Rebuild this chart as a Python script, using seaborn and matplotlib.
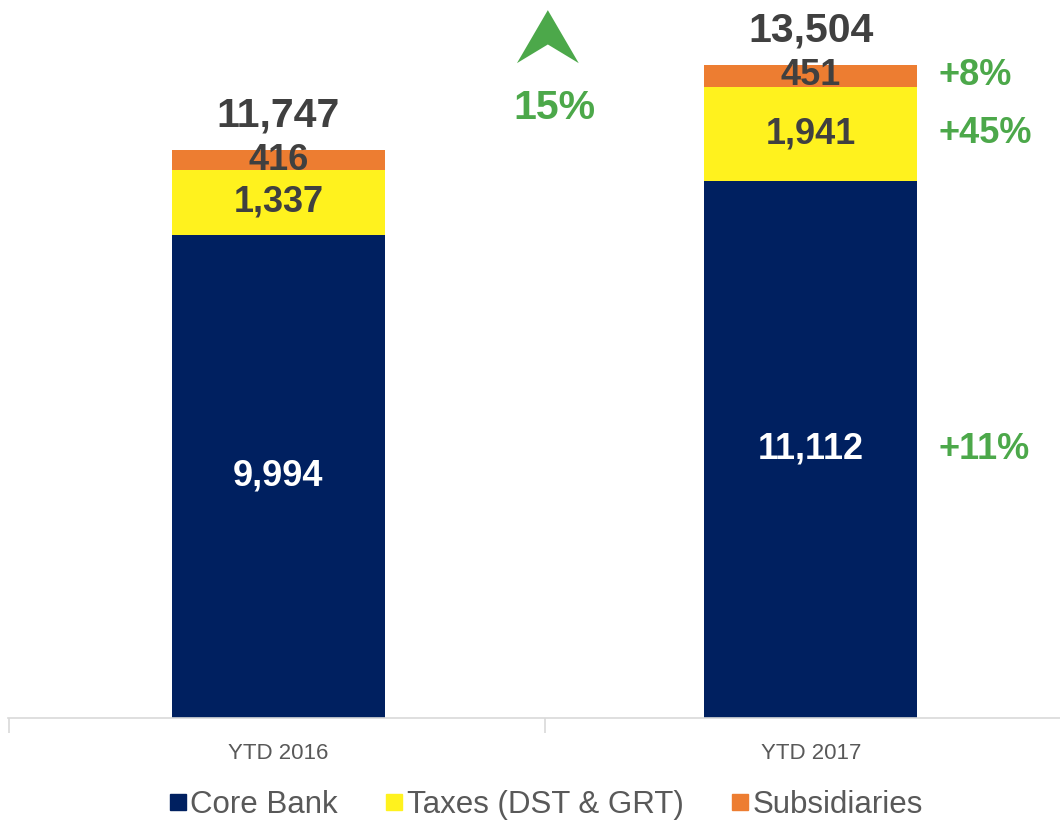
import matplotlib.pyplot as plt
import numpy as np
import pandas as pd
import seaborn as sns
from matplotlib.lines import Line2D
from matplotlib.patches import Polygon

periods = ["YTD 2016", "YTD 2017"]
core_bank = [9994, 11112]
taxes = [1337, 1941]
subsidiaries = [416, 451]
totals = [11747, 13504]
growth_2017 = {"core": "+11%", "taxes": "+45%", "subs": "+8%"}
total_growth = "15%"

series_names = ["Core Bank", "Taxes (DST & GRT)", "Subsidiaries"]
colors = ["#002060", "#FFF21E", "#ED7D31"]
text_gray = "#404040"
green = "#4CA84A"

sns.set_theme(style="white")
plt.rcParams["font.family"] = ["Liberation Sans", "DejaVu Sans"]

df = pd.DataFrame({"period": periods, "core": core_bank, "taxes": taxes, "subs": subsidiaries})
df["core_taxes"] = df["core"] + df["taxes"]
df["all"] = df["core_taxes"] + df["subs"]

fig = plt.figure(figsize=(10.6, 8.23), dpi=100)
ax = fig.add_axes([8 / 1060, 0.1276, 1052 / 1060, 0.8724])

# stacked bars drawn as cumulative heights, tallest first
for col, c in zip(["all", "core_taxes", "core"], colors[::-1]):
    sns.barplot(data=df, x="period", y=col, color=c, width=0.4, saturation=1, ax=ax, edgecolor="none")

ax.set_xlabel("")
ax.set_ylabel("")
ax.set_yticks([])
for s in ["top", "right", "left"]:
    ax.spines[s].set_visible(False)
ax.spines["bottom"].set_color("#D9D9D9")
ax.spines["bottom"].set_linewidth(1.2)
ax.tick_params(axis="x", which="major", length=0, pad=18, labelsize=16, labelcolor="#595959")
ax.set_xticks([-0.506, 0.5], minor=True)
ax.tick_params(axis="x", which="minor", bottom=True, length=11, color="#D9D9D9", width=1.2, direction="out")
ax.set_xlim(-0.508, 1.468)
ax.set_ylim(0, 14850)

# segment labels
for i in range(len(periods)):
    c, t, s = core_bank[i], taxes[i], subsidiaries[i]
    ax.text(i, c / 2, f"{c:,}", ha="center", va="center", color="white", fontsize=26, fontweight="bold")
    ax.text(i, c + t / 2, f"{t:,}", ha="center", va="center", color=text_gray, fontsize=26, fontweight="bold")
    ax.text(i, c + t + s / 2, f"{s:,}", ha="center", va="center", color=text_gray, fontsize=26, fontweight="bold")
    ax.text(i, totals[i] + 720, f"{totals[i]:,}", ha="center", va="center", color=text_gray, fontsize=29.5, fontweight="bold")

# growth labels next to 2017 bar
gx = 1.24
ax.text(gx, core_bank[1] / 2, growth_2017["core"], ha="left", va="center", color=green, fontsize=26, fontweight="bold")
ax.text(gx, core_bank[1] + taxes[1] / 2, growth_2017["taxes"], ha="left", va="center", color=green, fontsize=26, fontweight="bold")
ax.text(gx, core_bank[1] + taxes[1] + subsidiaries[1] / 2, growth_2017["subs"], ha="left", va="center", color=green, fontsize=26, fontweight="bold")
ax.text(0.519, 12614, total_growth, ha="center", va="center", color=green, fontsize=29.5, fontweight="bold")

# up arrow (chevron)
arrow = Polygon([(0.506, 14640), (0.564, 13544), (0.506, 13930), (0.448, 13544)],
                closed=True, facecolor=green, edgecolor="none")
ax.add_patch(arrow)

handles = [Line2D([0], [0], marker="s", linestyle="none", markersize=11.5, markerfacecolor=c, markeredgecolor=c)
           for c in colors]
leg = fig.legend(handles, series_names, loc="center", bbox_to_anchor=(0.514, 0.022), ncol=3, frameon=False,
                 handletextpad=0.05, columnspacing=1.45, handlelength=0.7, prop={"size": 22.5})
for t in leg.get_texts():
    t.set_color("#595959")

fig.savefig("out.png", dpi=100)
